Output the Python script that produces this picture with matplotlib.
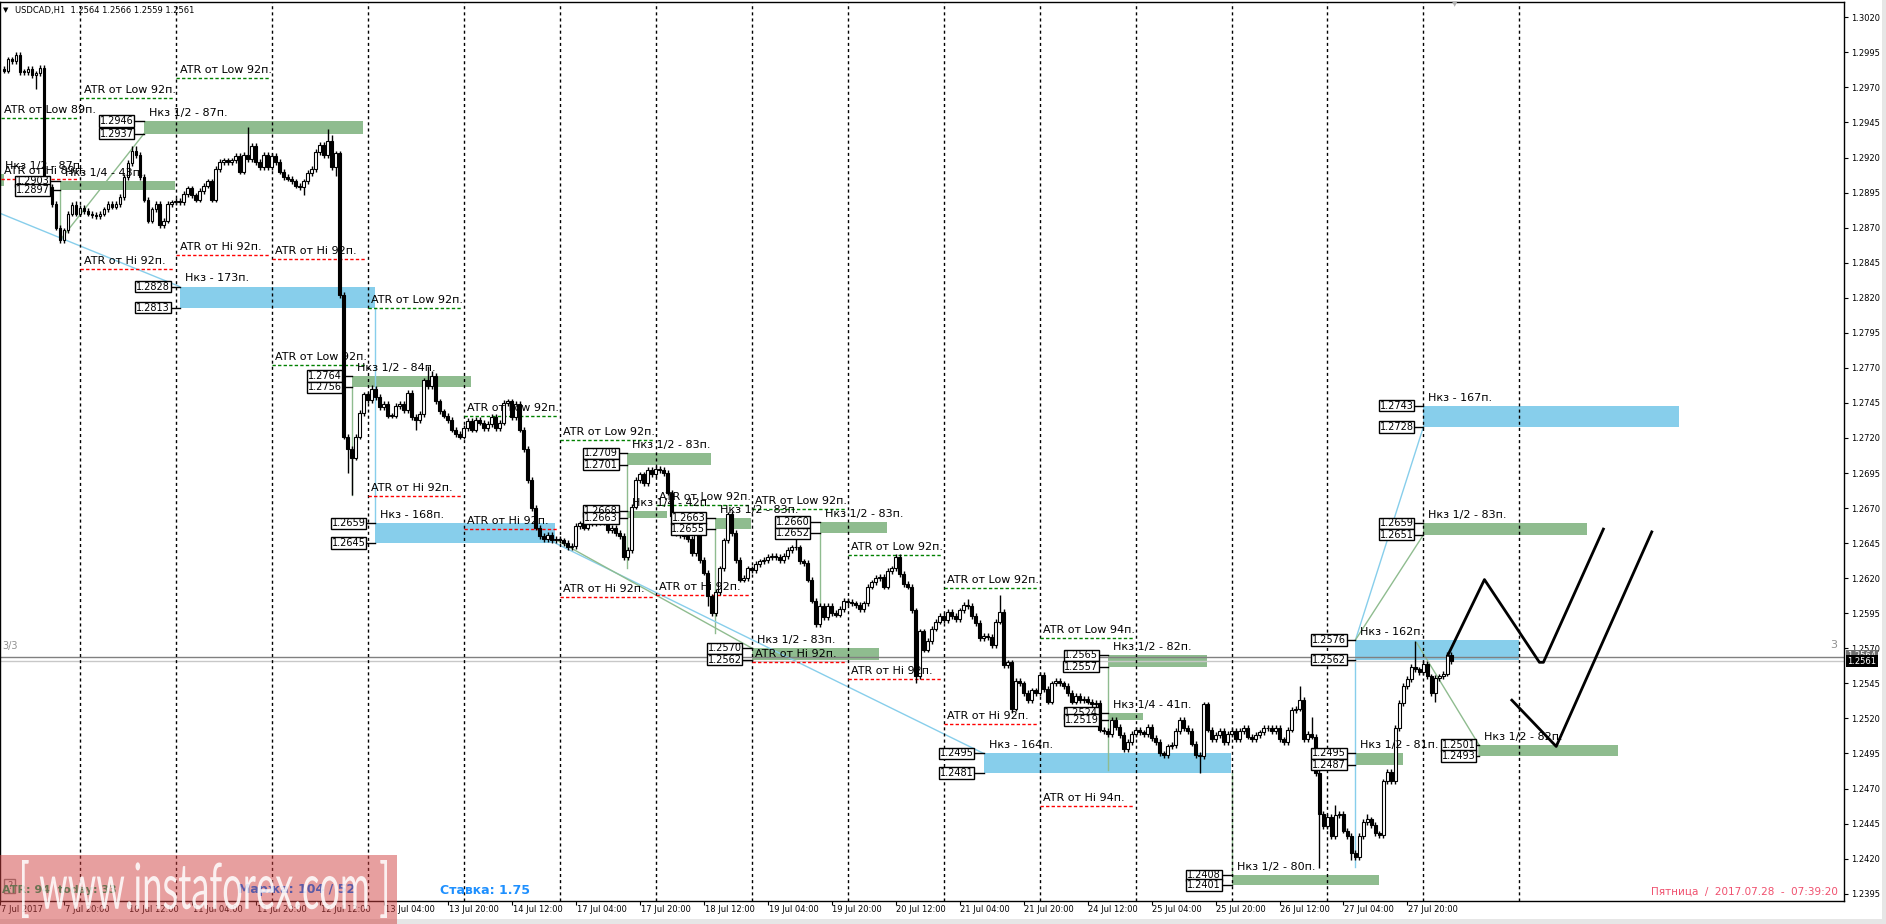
import matplotlib
matplotlib.use("Agg")
import matplotlib.pyplot as plt
import numpy as np
from matplotlib.patches import Rectangle, PathPatch
from matplotlib.textpath import TextPath
from matplotlib.font_manager import FontProperties
from matplotlib.transforms import Affine2D, IdentityTransform, blended_transform_factory

plt.rcParams['font.family'] = ['DejaVu Sans']

W, H = 1886, 924

# H1 closes, pips above 1.2000. bar 0 = 10 Jul 00:00
first_bar = -19
first_open = 983
closes_jul07 = [982, 990, 989, 993, 981, 981, 983, 979, 980, 984, 902, 899, 887, 870, 861, 868, 880, 886, 880]
closes_wk1 = [884, 882, 880, 879, 878, 880, 883, 887, 885, 887,
              892, 906, 916, 925, 922, 906, 890, 875, 883, 887,
              872, 875, 887, 888, 889, 888, 894, 898, 893, 890,
              896, 900, 903, 890, 912, 917, 918, 917, 918, 921,
              910, 922, 919, 928, 917, 913, 922, 913, 921, 917,
              910, 906, 905, 903, 900, 899, 903, 909, 912, 924,
              929, 922, 932, 913, 923,
              822, 721, 712, 706, 721, 738, 751, 747, 755, 749,
              742, 744, 736, 736, 743, 744, 740, 752, 735, 733,
              737, 761, 757, 764, 746, 739, 736, 733, 726, 723,
              721, 727, 732, 726, 733, 731, 727, 730, 735, 727,
              731, 745, 746, 735, 744, 726, 712, 690, 670, 656,
              650, 648, 651, 647, 648]
closes_wk2 = [647, 645, 642, 643, 657,
              659, 656, 660, 659, 668, 660, 667, 654, 656, 652,
              650, 635, 640, 671, 690, 694, 688, 697, 694, 698,
              697, 695, 681, 664, 652, 651, 650, 648, 638, 664,
              633, 624, 607, 595,
              610, 627, 647, 666, 652, 633, 619, 620, 627, 626,
              630, 632, 633, 635, 636, 635, 633, 636, 640, 642,
              642, 632, 631, 619, 604, 587, 600, 592, 600, 595,
              594, 598, 604, 603, 602, 601, 598, 602, 614, 617,
              620, 621, 614, 625, 627, 635, 623, 616, 614, 597,
              550, 582, 569, 575, 584, 589, 593, 590, 596, 593,
              591, 597, 601, 600, 593, 588, 577, 579, 578, 572,
              589, 596, 558, 560, 527, 547, 545, 538, 533, 540,
              538]
closes_wk3 = [551, 541, 532, 545, 547, 545, 543, 538, 532,
              536, 533, 534, 532, 530, 531,
              512, 511, 509, 519, 514, 508, 498, 503, 509, 512,
              510, 509, 514, 506, 503, 495, 494, 500, 501, 511,
              519, 513, 511, 502, 494, 493, 530, 512, 505, 508,
              511, 503, 509, 511, 505, 511, 513, 507, 505, 508,
              510, 513, 513, 511, 513, 505, 503, 512, 526, 527,
              533, 505, 509, 507, 481, 452, 443, 450, 436, 451,
              452, 440, 436, 424, 421, 436, 446, 448, 444, 438,
              437, 475, 482, 475, 513, 531, 543, 548, 557, 555,
              553, 559, 550, 538, 549, 550, 552, 565, 561]
# long wicks that stand out (bar: pips)
wick_highs = {-1: 889, 13: 928, 14: 928, 42: 942, 62: 940, 63: 936, 73: 758, 87: 771, 88: 768,
              144: 700, 162: 667, 179: 652, 203: 629, 222: 605, 230: 608, 281: 532, 305: 543,
              308: 521, 314: 458, 322: 452, 334: 575}
wick_lows = {-11: 969, -5: 859, 56: 893, 64: 907, 67: 695, 68: 679, 84: 726, 136: 633, 157: 600,
             184: 585, 209: 545, 233: 524, 280: 481, 310: 413, 318: 419, 339: 532}

# x-axis labels every 16 bars from bar -20
x_labels = ["7 Jul 2017", "7 Jul 20:00", "10 Jul 12:00", "11 Jul 04:00", "11 Jul 20:00", "12 Jul 12:00",
            "13 Jul 04:00", "13 Jul 20:00", "14 Jul 12:00", "17 Jul 04:00", "17 Jul 20:00", "18 Jul 12:00",
            "19 Jul 04:00", "19 Jul 20:00", "20 Jul 12:00", "21 Jul 04:00", "21 Jul 20:00", "24 Jul 12:00",
            "25 Jul 04:00", "25 Jul 20:00", "26 Jul 12:00", "27 Jul 04:00", "27 Jul 20:00"]

# daily ATR levels (pips above 1.2000)
atr_day = [-20, 0, 24, 48, 72, 96, 120, 144, 168, 192, 216, 240]
atr_low = [948.0, 962.7, 976.5, 771.8, 812.5, 735.7, 718.3, 672.2, 669.1, 636.3, 612.8, 577.3]
atr_hi = [904.9, 840.3, 850.5, 847.4, 678.4, 654.9, 606.4, 607.8, 560.0, 547.9, 516.0, 457.5]
atr_pips = [89, 92, 92, 92, 92, 92, 92, 92, 92, 92, 92, 94]

# zones
zone_top = [1.2908, 1.2946, 1.2903, 1.2828, 1.2764, 1.2659, 1.2709, 1.2668, 1.2663, 1.2660,
            1.2570, 1.2495, 1.2565, 1.2524, 1.2408, 1.2576, 1.2495, 1.2501, 1.2743, 1.2659]
zone_bot = [1.2900, 1.2937, 1.2897, 1.2813, 1.2756, 1.2645, 1.2701, 1.2663, 1.2655, 1.2652,
            1.2562, 1.2481, 1.2557, 1.2519, 1.2401, 1.2562, 1.2487, 1.2493, 1.2728, 1.2651]
zone_start = [-30, 16.0, -5.0, 24.9, 68.0, 73.9, 136.9, 136.9, 158.9, 185.0,
              168.1, 226.0, 257.0, 257.0, 288.1, 319.0, 319.0, 349.9, 336.0, 336.0]
zone_end = [-19.1, 70.85, 23.85, 73.9, 97.9, 118.9, 157.9, 146.9, 167.85, 201.85,
            199.9, 287.85, 281.85, 265.85, 324.9, 359.9, 330.85, 384.7, 399.9, 376.85]
zone_kind = ['g', 'g', 'g', 'b', 'g', 'b', 'g', 'g', 'g', 'g', 'g', 'b', 'g', 'g', 'g', 'b', 'g', 'g', 'b', 'g']
zone_text = ["Нкз 1/2 - 87п.", "Нкз 1/2 - 87п.", "Нкз 1/4 - 43п.", "Нкз - 173п.", "Нкз 1/2 - 84п.",
             "Нкз - 168п.", "Нкз 1/2 - 83п.", "Нкз 1/4 - 42п.", "Нкз 1/2 - 83п.", "Нкз 1/2 - 83п.",
             "Нкз 1/2 - 83п.", "Нкз - 164п.", "Нкз 1/2 - 82п.", "Нкз 1/4 - 41п.", "Нкз 1/2 - 80п.",
             "Нкз - 162п.", "Нкз 1/2 - 81п.", "Нкз 1/2 - 82п.", "Нкз - 167п.", "Нкз 1/2 - 83п."]
zone_box = [None, 13.35, -7.6, 22.5, 65.4, 71.4, 134.5, 134.5, 156.4, 182.5,
            165.5, 223.5, 254.7, 254.7, 285.35, 316.6, 316.6, 349.0, 333.5, 333.5]

# thin connecting lines
link_kind = ['b', 'g', 'g', 'b', 'g', 'g', 'g', 'g', 'b', 'g', 'g', 'g', 'b', 'b', 'g', 'g']
link_x = [[-19.8, 24.9], [-5.0, 16.0], [-5.0, -5.0], [73.9, 73.9], [68.0, 68.0], [136.9, 136.9],
          [158.9, 158.9], [185.0, 185.0], [118.9, 226.0], [119.3, 168.1], [257.0, 257.0],
          [288.1, 288.1], [319.0, 319.0], [319.0, 336.0], [319.0, 336.0], [334.3, 349.9, 349.9]]
link_y = [[1.2880, 1.2828], [1.2861, 1.2937], [1.2897, 1.2861], [1.2813, 1.2659], [1.2756, 1.2679],
          [1.2701, 1.2627], [1.2655, 1.2581], [1.2652, 1.2587], [1.2645, 1.2495], [1.2647, 1.2570],
          [1.2557, 1.2483], [1.2481, 1.2408], [1.2562, 1.2414], [1.2576, 1.2728], [1.2576, 1.2651],
          [1.2574, 1.2501, 1.2493]]

# forecast zigzags
zz1_x = [342.1, 351.25, 365.0, 366.0, 381.0]
zz1_y = [1.2565, 1.2619, 1.2560, 1.2560, 1.2655]
zz2_x = [358.1, 369.2, 393.1]
zz2_y = [1.2533, 1.2500, 1.2653]

bid, ask = 1.2561, 1.2564

# ---------------------------------------------------------------
fig = plt.figure(figsize=(W / 100, H / 100), dpi=100)
ax = fig.add_axes([0, 23 / H, 1844 / W, 899 / H])
ax.set_xlim(-19.825, 441.175)
ax.set_ylim(1.238977, 1.303091)

green = '#8fbc8f'
blue = '#87ceeb'
kind_col = {'g': green, 'b': blue}

# candles
closes = np.array(closes_jul07 + closes_wk1 + closes_wk2 + closes_wk3, dtype=float)
idx = np.arange(first_bar, first_bar + len(closes))
c = 1.2 + closes / 10000
o = np.r_[1.2 + first_open / 10000, c[:-1]]
hi = np.maximum(o, c) + 0.0002
lo = np.minimum(o, c) - 0.0002
for k, v in wick_highs.items():
    hi[k - first_bar] = 1.2 + v / 10000
for k, v in wick_lows.items():
    lo[k - first_bar] = 1.2 + v / 10000

ax.vlines(idx, lo, hi, color='black', lw=1, zorder=4)
up = c >= o
body = np.maximum(np.abs(c - o), 0.00004)
ax.bar(idx[up], body[up], bottom=np.minimum(o, c)[up], width=0.72, color='white',
       edgecolor='black', linewidth=0.8, zorder=5)
ax.bar(idx[~up], body[~up], bottom=np.minimum(o, c)[~up], width=0.72, color='black',
       edgecolor='black', linewidth=0.8, zorder=5)

# day separators
for d in range(0, 361, 24):
    ax.axvline(d, color='black', lw=1, ls=(0, (2.2, 2.2)), zorder=3)

# ATR levels
for k, d in enumerate(atr_day):
    x0 = max(d, -19.8)
    x1 = -0.6 if k == 0 else d + 23.4
    pl = 1.2 + atr_low[k] / 10000
    ph = 1.2 + atr_hi[k] / 10000
    ax.plot([x0, x1], [pl, pl], color='#008000', lw=1, ls=(0, (2.4, 1.6)), zorder=3)
    ax.plot([x0, x1], [ph, ph], color='#ff0000', lw=1, ls=(0, (2.4, 1.6)), zorder=3)
    ax.annotate(f"ATR от Low {atr_pips[k]}п.", (x0 + 0.9, pl), xytext=(0, 2.2),
                textcoords='offset points', fontsize=8, ha='left', va='bottom', zorder=8)
    ax.annotate(f"ATR от Hi {atr_pips[k]}п.", (x0 + 0.9, ph), xytext=(0, 2.2),
                textcoords='offset points', fontsize=8, ha='left', va='bottom', zorder=8)

# zones with their labels and price boxes
for k in range(len(zone_top)):
    ax.add_patch(Rectangle((zone_start[k], zone_bot[k]), zone_end[k] - zone_start[k],
                           zone_top[k] - zone_bot[k], facecolor=kind_col[zone_kind[k]],
                           edgecolor='none', zorder=1))
    lx = -18.8 if k == 0 else zone_start[k] + 1.25
    ax.annotate(zone_text[k], (lx, zone_top[k]), xytext=(0, 2.2), textcoords='offset points',
                fontsize=8, ha='left', va='bottom', zorder=8)
    if zone_box[k] is not None:
        for p in (zone_top[k], zone_bot[k]):
            ax.plot([zone_box[k], zone_start[k]], [p, p], color='black', lw=1, zorder=6)
            ax.text(zone_box[k], p, f"{p:.4f}", ha='right', va='center', fontsize=7, zorder=9,
                    bbox=dict(boxstyle='square,pad=0.08', fc='white', ec='black', lw=1))

for kd, xs, ys in zip(link_kind, link_x, link_y):
    ax.plot(xs, ys, color=kind_col[kd], lw=1, zorder=2)

ax.plot(zz1_x, zz1_y, color='black', lw=2, zorder=7)
ax.plot(zz2_x, zz2_y, color='black', lw=2, zorder=7)

# bid / ask lines
ax.axhline(ask, color='#808080', lw=1, zorder=2)
ax.axhline(bid, color='#c8c8c8', lw=1, zorder=2)
ax.text(-19.5, 1.25715, "3/3", color='#909090', fontsize=7, ha='left', va='center')
ax.text(438.5, 1.25725, "3", color='#909090', fontsize=8, ha='center', va='center')

# axes styling
for s in ax.spines.values():
    s.set_color('black')
    s.set_linewidth(1)
ax.yaxis.tick_right()
yt = np.round(np.arange(1.2395, 1.30201, 0.0025), 4)
ax.set_yticks(yt)
ax.set_yticklabels([f"{v:.4f}" for v in yt])
ax.tick_params(axis='y', direction='out', length=3, pad=2, labelsize=6)
xt = [-20 + 16 * k for k in range(len(x_labels))]
ax.set_xticks(xt)
ax.set_xticklabels([])
ax.tick_params(axis='x', direction='out', length=3)
tb = blended_transform_factory(ax.transData, ax.transAxes)
for x, lab in zip(xt, x_labels):
    ax.text(x + 0.2, -0.0045, lab, transform=tb, fontsize=6, ha='left', va='top', clip_on=False)

# right axis price boxes
tr_r = blended_transform_factory(ax.transAxes, ax.transData)
ax.text(1.0018, ask + 0.00006, f"{ask:.4f}", transform=tr_r, fontsize=6, color='white', ha='left',
        va='center', bbox=dict(boxstyle='square,pad=0.15', fc='#707070', ec='none'), clip_on=False)
ax.text(1.0018, bid - 0.00002, f"{bid:.4f}", transform=tr_r, fontsize=6, color='white', ha='left',
        va='center', bbox=dict(boxstyle='square,pad=0.15', fc='black', ec='none'), clip_on=False)


def fp(x, y):
    return x / W, 1 - y / H


# header
fig.text(*fp(3, 10), "▼", fontsize=5, va='center', ha='left')
fig.text(*fp(15, 10), "USDCAD,H1  1.2564 1.2566 1.2559 1.2561", fontsize=6, va='center', ha='left')
fig.text(*fp(1455, 4), "▼", fontsize=5, color='#b0b0b0', va='center', ha='center')

# bottom info
fig.add_artist(Rectangle((4, 31), 11, 14, transform=IdentityTransform(), facecolor='none',
                         edgecolor='#808080', lw=1, zorder=5))
fig.text(*fp(9.5, 886), "?", fontsize=7, color='#606060', va='center', ha='center')
fig.text(*fp(2, 890), "ATR: 94  today: 33", fontsize=8, fontweight='bold', color='#6a7352',
         va='center', ha='left', zorder=20.5)
fig.text(*fp(238, 890), "Маржа: 104 / 52", fontsize=9, fontweight='bold', color='#5a5aa6',
         va='center', ha='left', zorder=20.5)
fig.text(*fp(440, 890), "Ставка: 1.75", fontsize=9, fontweight='bold', color='#1e90ff',
         va='center', ha='left')
fig.text(*fp(1838, 892), "Пятница  /  2017.07.28  -  07:39:20", fontsize=7.5, color='#f0506e',
         va='center', ha='right')

# outer frame bits
fig.add_artist(Rectangle((0, 0), W, 5, transform=IdentityTransform(), facecolor='#e6e6e6',
                         edgecolor='none', zorder=0))
fig.add_artist(Rectangle((W - 4, 0), 4, H, transform=IdentityTransform(), facecolor='#e6e6e6',
                         edgecolor='none', zorder=0))

# watermark
fig.add_artist(Rectangle((0, 0), 397, 69, transform=IdentityTransform(), facecolor='#d14141',
                         alpha=0.5, edgecolor='none', zorder=20))
tp = TextPath((0, 0), "[ www.instaforex.com ]", size=100,
              prop=FontProperties(family=['Lato', 'DejaVu Sans']))
bb = tp.get_extents()
wm_tr = Affine2D().translate(-bb.x0, -bb.y0).scale(365 / bb.width, 58 / bb.height).translate(22, 6)
fig.add_artist(PathPatch(wm_tr.transform_path(tp), transform=IdentityTransform(), facecolor='white',
                         edgecolor='none', alpha=0.85, zorder=21))

fig.savefig("out.png", dpi=100)
